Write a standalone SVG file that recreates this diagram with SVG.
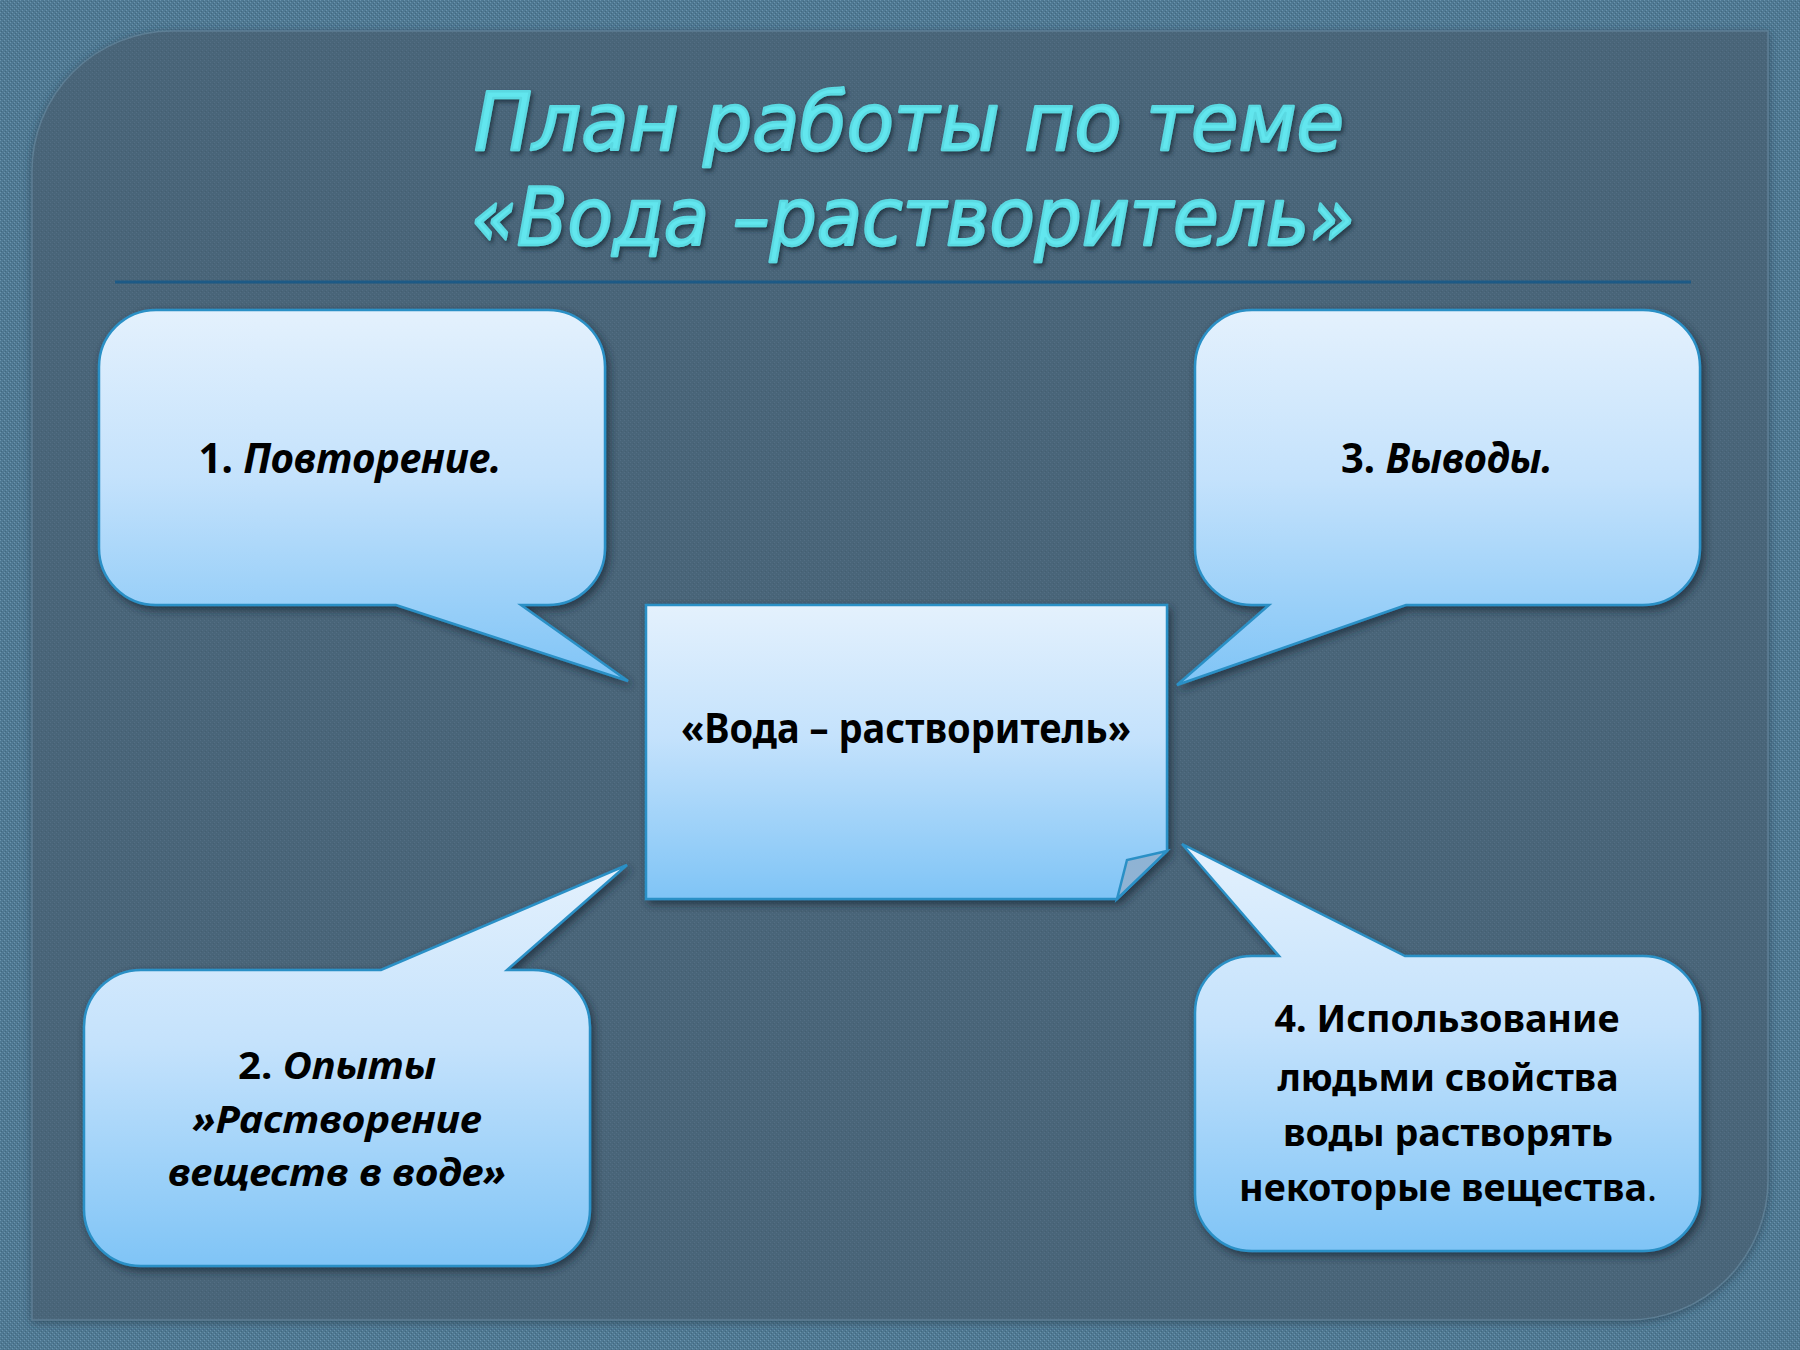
<svg xmlns="http://www.w3.org/2000/svg" width="1800" height="1350" viewBox="0 0 1800 1350">
  <defs>
    <pattern id="texOuter" width="4" height="4" patternUnits="userSpaceOnUse">
      <rect width="4" height="4" fill="#4f7993"/>
      <rect x="0" y="0" width="1" height="1" fill="#6a93ac"/>
      <rect x="2" y="2" width="1" height="1" fill="#6a93ac"/>
      <rect x="1" y="3" width="1" height="1" fill="#44697f"/>
      <rect x="3" y="1" width="1" height="1" fill="#44697f"/>
    </pattern>
    <pattern id="texInner" width="4" height="4" patternUnits="userSpaceOnUse">
      <rect width="4" height="4" fill="#4a6579"/>
      <rect x="0" y="0" width="1" height="1" fill="#526e83"/>
      <rect x="2" y="2" width="1" height="1" fill="#526e83"/>
      <rect x="1" y="3" width="1" height="1" fill="#445e71"/>
    </pattern>
    <linearGradient id="boxGrad" x1="0" y1="0" x2="0" y2="1">
      <stop offset="0" stop-color="#e4f1fd"/>
      <stop offset="0.45" stop-color="#c4e2fc"/>
      <stop offset="1" stop-color="#7fc4f6"/>
    </linearGradient>
    <filter id="shadow" x="-10%" y="-10%" width="125%" height="125%">
      <feDropShadow dx="3" dy="4" stdDeviation="4" flood-color="#1a2a36" flood-opacity="0.75"/>
    </filter>
    <filter id="panelShadow" x="-5%" y="-5%" width="110%" height="110%">
      <feDropShadow dx="0" dy="2" stdDeviation="4" flood-color="#2a4152" flood-opacity="0.7"/>
    </filter>
    <filter id="titleShadow" x="-5%" y="-20%" width="110%" height="150%">
      <feDropShadow dx="2" dy="3" stdDeviation="2" flood-color="#1d3340" flood-opacity="0.85"/>
    </filter>
    <style>
      .callout { fill: url(#boxGrad); stroke: #2a90c6; stroke-width: 2.5; filter: url(#shadow); }
      .lbl { font-family: "Noto Sans", "Open Sans", "DejaVu Sans", sans-serif; font-weight: bold; font-size: 42px; fill: #000; text-anchor: middle; }
      .ml { font-size: 38px; }
      .it { font-style: italic; }
      .title { font-family: "DejaVu Sans", "Noto Sans", sans-serif; font-style: italic; font-size: 80px; fill: #62e6ee; stroke: #5ad9e2; stroke-width: 2.5; stroke-linejoin: round; text-anchor: middle; filter: url(#titleShadow); }
    </style>
  </defs>

  <!-- background -->
  <rect x="0" y="0" width="1800" height="1350" fill="url(#texOuter)"/>
  <path d="M172,31 H1768 V1180 A140,140 0 0 1 1628,1320 H32 V171 A140,140 0 0 1 172,31 Z" fill="url(#texInner)" stroke="#5d7e94" stroke-width="1.5" filter="url(#panelShadow)"/>

  <!-- title -->
  <g id="title">
    <text class="title" x="909" y="150" textLength="870" lengthAdjust="spacingAndGlyphs">План работы по теме</text>
    <text class="title" x="913" y="245" textLength="884" lengthAdjust="spacingAndGlyphs">«Вода –растворитель»</text>
  </g>
  <line x1="115" y1="282" x2="1691" y2="282" stroke="#1d5a86" stroke-width="3"/>

  <!-- connectors: callout tails are part of the callout shapes -->
  <g id="connectors"></g>

  <g id="node-center">
    <path class="callout" d="M646,605 H1167 V851 L1117,899 H646 Z"/>
    <path d="M1167,851 L1127,860 L1117,899 Z" fill="#8fb3d4" stroke="#2a90c6" stroke-width="2.5"/>
    <text class="lbl" x="906" y="743" textLength="450" lengthAdjust="spacingAndGlyphs">«Вода – растворитель»</text>
  </g>

  <g id="node-1">
    <path class="callout" d="M156,310 H548 A57,57 0 0 1 605,367 V548 A57,57 0 0 1 548,605 H521 L628,681 L396,605 H156 A57,57 0 0 1 99,548 V367 A57,57 0 0 1 156,310 Z"/>
    <text class="lbl" x="350" y="473" textLength="303" lengthAdjust="spacingAndGlyphs">1. <tspan class="it">Повторение.</tspan></text>
  </g>

  <g id="node-3">
    <path class="callout" d="M1252,310 H1643 A57,57 0 0 1 1700,367 V548 A57,57 0 0 1 1643,605 H1406 L1177,685 L1269,605 H1252 A57,57 0 0 1 1195,548 V367 A57,57 0 0 1 1252,310 Z"/>
    <text class="lbl" x="1447" y="473" textLength="212" lengthAdjust="spacingAndGlyphs">3. <tspan class="it">Выводы.</tspan></text>
  </g>

  <g id="node-2">
    <path class="callout" d="M141,970 H381 L627,865 L507,970 H533 A57,57 0 0 1 590,1027 V1209 A57,57 0 0 1 533,1266 H141 A57,57 0 0 1 84,1209 V1027 A57,57 0 0 1 141,970 Z"/>
    <text class="lbl ml" x="337" y="1079" textLength="198" lengthAdjust="spacingAndGlyphs">2. <tspan class="it">Опыты</tspan></text>
    <text class="lbl ml it" x="337" y="1133" textLength="289" lengthAdjust="spacingAndGlyphs">»Растворение</text>
    <text class="lbl ml it" x="337" y="1186" textLength="338" lengthAdjust="spacingAndGlyphs">веществ в воде»</text>
  </g>

  <g id="node-4">
    <path class="callout" d="M1252,956 H1279 L1182,844 L1405,956 H1643 A57,57 0 0 1 1700,1013 V1194 A57,57 0 0 1 1643,1251 H1252 A57,57 0 0 1 1195,1194 V1013 A57,57 0 0 1 1252,956 Z"/>
    <text class="lbl ml" x="1447" y="1032" textLength="345" lengthAdjust="spacingAndGlyphs">4. Использование</text>
    <text class="lbl ml" x="1448" y="1091" textLength="341" lengthAdjust="spacingAndGlyphs">людьми свойства</text>
    <text class="lbl ml" x="1448" y="1146" textLength="330" lengthAdjust="spacingAndGlyphs">воды растворять</text>
    <text class="lbl ml" x="1448" y="1201" textLength="418" lengthAdjust="spacingAndGlyphs">некоторые вещества<tspan font-weight="normal">.</tspan></text>
  </g>
</svg>
